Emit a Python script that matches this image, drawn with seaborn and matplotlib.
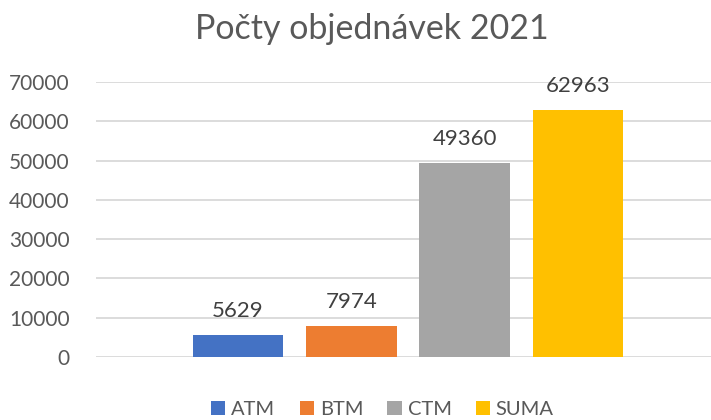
import pandas as pd
import matplotlib.pyplot as plt
import seaborn as sns

# data
categories = ["2021"]
series = ["ATM", "BTM", "CTM", "SUMA"]
values = [5629, 7974, 49360, 62963]
colors = ["#4472C4", "#ED7D31", "#A5A5A5", "#FFC000"]

df = pd.DataFrame({"rok": categories * len(series), "typ": series, "pocet": values})

sns.set_theme(style="white")
plt.rcParams["font.family"] = ["Lato", "DejaVu Sans"]

fig = plt.figure(figsize=(7.11, 4.2), dpi=100)
ax = fig.add_axes([96 / 711, 63 / 420, 1 - 96 / 711, (357 - 82) / 420])

sns.barplot(data=df, x="rok", y="pocet", hue="typ", palette=colors,
            width=0.8, gap=0.2, linewidth=0, saturation=1, ax=ax, legend=True)

for c in ax.containers:
    ax.bar_label(c, fmt="%d", padding=10, fontsize=16, color="#404040")

ax.set_ylim(0, 70000)
ax.set_xlim(-0.5506, 0.5347)
ax.set_yticks(range(0, 70001, 10000))
ax.yaxis.grid(True, color="#D9D9D9", linewidth=1.3)
ax.set_axisbelow(True)
ax.set_xticks([])
ax.set_xlabel("")
ax.set_ylabel("")
for s in ax.spines.values():
    s.set_visible(False)
ax.tick_params(axis="y", labelsize=15, labelcolor="#595959", length=0, pad=19)

fig.text(0.523, 0.93, "Počty objednávek 2021", ha="center", va="center",
         fontsize=24.5, color="#595959")

handles, labels = ax.get_legend_handles_labels()
ax.get_legend().remove()
fig.legend(handles, labels, loc="center", bbox_to_anchor=(0.538, 0.024), ncol=4,
           frameon=False, fontsize=14.5, labelcolor="#595959", handlelength=0.7,
           handleheight=0.7, handletextpad=0.3, columnspacing=1.2)

fig.savefig("out.png", dpi=100)
